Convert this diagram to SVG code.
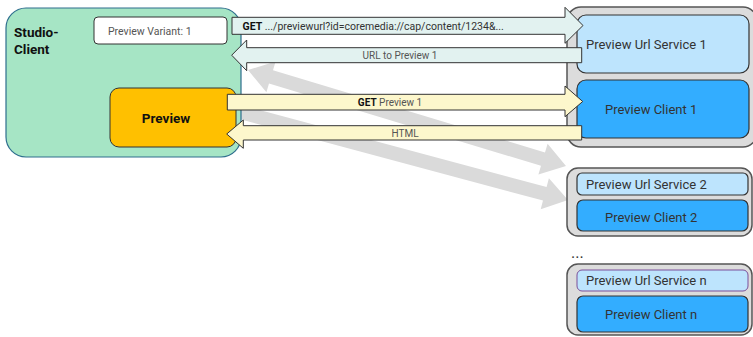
<svg xmlns="http://www.w3.org/2000/svg" width="753" height="337" viewBox="0 0 753 337">
<style>
text{font-family:Roboto,"Liberation Sans",sans-serif}
.grp{fill:#dcdcdc;stroke:#555;stroke-width:1.5}
.svc{fill:#bde4fd;stroke:#333;stroke-width:1.2}
.cli{fill:#33adff;stroke:#333;stroke-width:1.2}
.t13{font-size:13px;fill:#333}
.lbl{font-size:10px;fill:#555}
.ar1{fill:#e2f2f0;stroke:#333;stroke-width:1}
.ar2{fill:#fdf7cc;stroke:#333;stroke-width:1}
.band{fill:#dadada}
</style>
<g id="connectors-bg">
<polygon class="band" points="248,70 275.6,61.6 273,70.2 545,152.4 547.6,143.8 566,166 538.4,174.4 541,165.8 269,83.6 266.4,92.2"/>
<polygon class="band" points="241.8,105.2 546.6,187 548.9,178.3 568,200 540.7,209.3 543,200.6 238.2,118.8"/>
</g>
<g id="studio-client">
<rect x="6" y="8" width="235" height="149" rx="20" fill="#a6e5c5" stroke="#2e6e8e" stroke-width="1.2"/>
<text x="14" y="37" font-size="13.5" font-weight="bold" fill="#111">Studio-</text>
<text x="14" y="54" font-size="13.5" font-weight="bold" fill="#111">Client</text>
</g>
<g id="preview-variant">
<rect x="94" y="17" width="133" height="27" rx="4" fill="#fff" stroke="#333" stroke-width="1"/>
<text x="108" y="35" font-size="10.5" fill="#555">Preview Variant: 1</text>
</g>
<g id="preview">
<rect x="110" y="88" width="126" height="59" rx="9" fill="#ffc000" stroke="#333" stroke-width="1"/>
<text x="166" y="123" font-size="13.5" font-weight="bold" fill="#111" text-anchor="middle">Preview</text>
</g>
<g id="group1">
<rect class="grp" x="567" y="7" width="190" height="140" rx="14"/>
</g>
<g id="url-service-1">
<rect class="svc" x="577" y="15" width="172" height="58" rx="9"/>
<text class="t13" x="586" y="49">Preview Url Service 1</text>
</g>
<g id="preview-client-1">
<rect class="cli" x="577" y="80" width="172" height="58" rx="9"/>
<text class="t13" x="605" y="114">Preview Client 1</text>
</g>
<g id="group2">
<rect class="grp" x="567" y="168" width="185" height="68" rx="11"/>
</g>
<g id="url-service-2">
<rect class="svc" x="577" y="173" width="171" height="22" rx="5"/>
<text class="t13" x="586" y="189">Preview Url Service 2</text>
</g>
<g id="preview-client-2">
<rect class="cli" x="577" y="200" width="171" height="31" rx="6"/>
<text class="t13" x="605" y="222">Preview Client 2</text>
</g>
<text x="571" y="258" font-size="16" fill="#333">...</text>
<g id="groupn">
<rect class="grp" x="567" y="264" width="185" height="71" rx="11"/>
</g>
<g id="url-service-n">
<rect x="577" y="270" width="171" height="21" rx="5" fill="#bde4fd" stroke="#7b4f9a" stroke-width="1"/>
<text class="t13" x="586" y="285">Preview Url Service n</text>
</g>
<g id="preview-client-n">
<rect class="cli" x="577" y="296" width="171" height="36" rx="6"/>
<text class="t13" x="605" y="319">Preview Client n</text>
</g>
<g id="connectors">
<path class="ar1" d="M232,17.3 H565 V7.3 L583,25.5 L565,43.3 V34.3 H232 Z"/>
<text x="242.5" y="30" font-size="10.5" fill="#333"><tspan font-weight="bold" fill="#111">GET</tspan> .../previewurl?id=coremedia://cap/content/1234&amp;...</text>
<path class="ar1" d="M581.7,47.7 H246.7 V40 L231.7,55.2 L246.7,70.7 V62.7 H581.7 Z"/>
<text class="lbl" x="400" y="59" text-anchor="middle">URL to Preview 1</text>
<path class="ar2" d="M227.3,94.3 H565 V86 L582.7,101.5 L565,116.7 V110 H227.3 Z"/>
<text class="lbl" x="390" y="106" text-anchor="middle"><tspan font-weight="bold" fill="#111">GET</tspan> Preview 1</text>
<path class="ar2" d="M581.7,125.7 H243.3 V120 L226.7,134 L243.3,148.3 V140 H581.7 Z"/>
<text class="lbl" x="405" y="137" text-anchor="middle">HTML</text>
</g>
</svg>
